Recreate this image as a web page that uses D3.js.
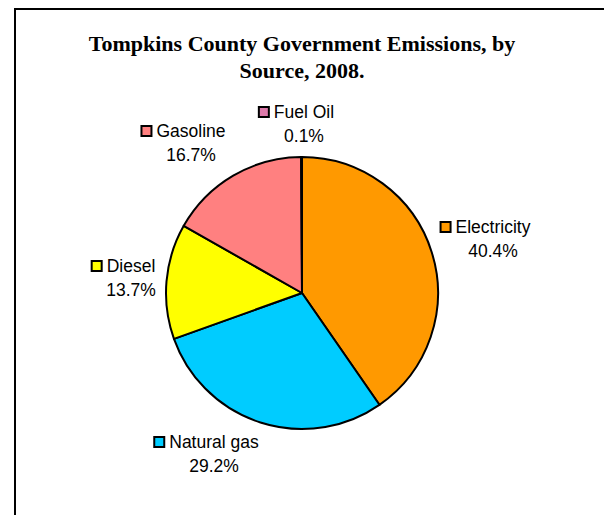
<!DOCTYPE html>
<html>
<head>
<meta charset="utf-8">
<script src="https://cdn.jsdelivr.net/npm/d3@7"></script>
<style>
  html, body { margin: 0; padding: 0; background: #fff; overflow: hidden; }
  svg { display: block; }
</style>
</head>
<body>
<svg id="chart" width="604" height="515"></svg>
<script>
// ---- data ----
const categories = ["Electricity", "Natural gas", "Diesel", "Gasoline", "Fuel Oil"];
const values = [40.4, 29.2, 13.7, 16.7, 0.1];
const percentLabels = ["40.4%", "29.2%", "13.7%", "16.7%", "0.1%"];
const titleLines = ["Tompkins County Government Emissions, by", "Source, 2008."];

// ---- styles / layout ----
const colors = ["#FF9900", "#00CCFF", "#FFFF00", "#FF8080", "#DD7AAA"];
const labelLayout = {
  "Electricity": { x: 493, y: 233 },
  "Natural gas": { x: 214, y: 448 },
  "Diesel": { x: 131, y: 272 },
  "Gasoline": { x: 191, y: 137 },
  "Fuel Oil": { x: 304, y: 118 }
};
const cx = 302, cy = 293, radius = 136;
const labelFont = "'Liberation Sans', Arial, sans-serif";

const svg = d3.select("#chart");

// chart area border (extends beyond right & bottom of window)
svg.append("rect")
  .attr("x", 15).attr("y", 9)
  .attr("width", 700).attr("height", 600)
  .attr("fill", "none").attr("stroke", "#000").attr("stroke-width", 2);

// title
svg.append("g").selectAll("text")
  .data(titleLines).join("text")
  .attr("x", 302)
  .attr("y", (d, i) => 51 + i * 27)
  .attr("text-anchor", "middle")
  .attr("font-family", "'Liberation Serif', 'Times New Roman', serif")
  .attr("font-weight", "bold")
  .attr("font-size", "22px")
  .attr("fill", "#000")
  .text(d => d);

// pie
const data = categories.map((c, i) => ({ name: c, value: values[i], pct: percentLabels[i], color: colors[i] }));
const pie = d3.pie().value(d => d.value).sort(null);
const arc = d3.arc().innerRadius(0).outerRadius(radius);
const arcs = pie(data);

const g = svg.append("g").attr("transform", `translate(${cx},${cy})`);
g.selectAll("path")
  .data(arcs).join("path")
  .attr("d", arc)
  .attr("fill", d => d.data.color)
  .attr("stroke", "#000")
  .attr("stroke-width", 2)
  .attr("stroke-linejoin", "round");

// labels
const fs = 17.5;
const lg = svg.append("g");
arcs.forEach(a => {
  const L = labelLayout[a.data.name];
  const t = lg.append("text")
    .attr("x", L.x).attr("y", L.y)
    .attr("text-anchor", "middle")
    .attr("font-family", labelFont)
    .attr("font-size", fs + "px")
    .attr("fill", "#000")
    .text(a.data.name);
  const w = t.node().getComputedTextLength();
  const left = L.x - w / 2;
  lg.append("rect")
    .attr("x", left - 15).attr("y", L.y - 11)
    .attr("width", 10).attr("height", 10)
    .attr("fill", a.data.color)
    .attr("stroke", "#000").attr("stroke-width", 2);
  lg.append("text")
    .attr("x", L.x).attr("y", L.y + 24)
    .attr("text-anchor", "middle")
    .attr("font-family", labelFont)
    .attr("font-size", fs + "px")
    .attr("fill", "#000")
    .text(a.data.pct);
});
</script>
</body>
</html>
